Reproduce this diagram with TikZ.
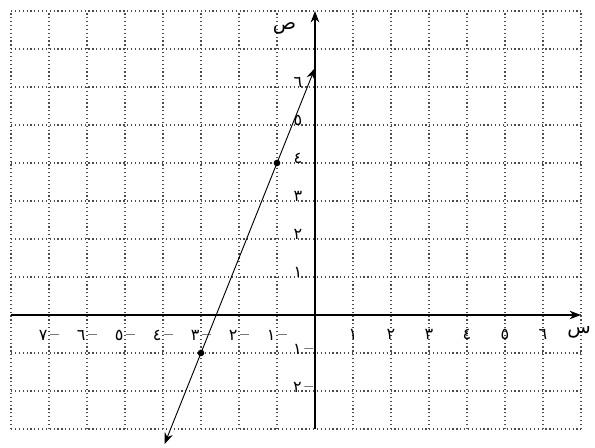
\documentclass[tikz,border=0pt]{standalone}
\usepackage{fontspec}
\usepackage{tikz}
\usetikzlibrary{positioning,arrows.meta}
\newfontfamily\arabicfont[Script=Arabic]{DejaVu Sans}
\TeXXeTstate=1
\newcommand{\negdash}{\,\raisebox{0.12ex}{\rmfamily\bfseries\textendash}}

\begin{document}
\begin{tikzpicture}[
  >={Stealth[length=3mm]},
  gridline/.style={black!70, line width=0.9pt, dotted},
  axis/.style={->, line width=1pt},
  graph/.style={<->, line width=0.7pt},
  num/.style={font=\arabicfont\large, inner sep=1pt},
  axname/.style={font=\arabicfont\Large, inner sep=1pt},
  pt/.style={circle, fill, inner sep=0pt, minimum size=5pt}
]
\useasboundingbox (-8.29,-3.5) rectangle (7.37,8.29);
\draw[gridline] (-8,-3) grid (7,8);

\coordinate (xa) at (-8,0);
\coordinate (xb) at (7,0);
\coordinate (ya) at (0,-3);
\coordinate (yb) at (0,8);
\draw[axis] (xa) -- (xb);
\draw[axis] (ya) -- (yb);
\node[axname] (xname) at (6.95,-0.45) {\beginR س\endR};
\node[axname] (yname) at (-0.8,7.55) {\beginR ص\endR};

% x-axis numbers
\foreach \k/\d in {1/١,2/٢,3/٣,4/٤,5/٥,6/٦}{
  \node[num] (xp\k) at (\k,-0.5) {\d};
  \node[num] (xn\k) at (-\k,-0.55) {\d\negdash};
}
\node[num] (xn7) at (-7,-0.55) {٧\negdash};

% y-axis numbers
\foreach \k/\d in {1/١,2/٢,3/٣,4/٤,5/٥,6/٦}{
  \node[num] (yp\k) at (-0.45,\k+0.12) {\d};
}
\node[num, anchor=east] (yn1) at (0,-0.9) {١\negdash};
\node[num, anchor=east] (yn2) at (0,-1.9) {٢\negdash};

% the line through two points
\node[pt] (p1) at (-1,4) {};
\node[pt] (p2) at (-3,-1) {};
\coordinate (lo) at (-3.96,-3.4);
\coordinate (hi) at (0,6.5);
\draw[graph] (lo) -- (hi);
\end{tikzpicture}
\end{document}
